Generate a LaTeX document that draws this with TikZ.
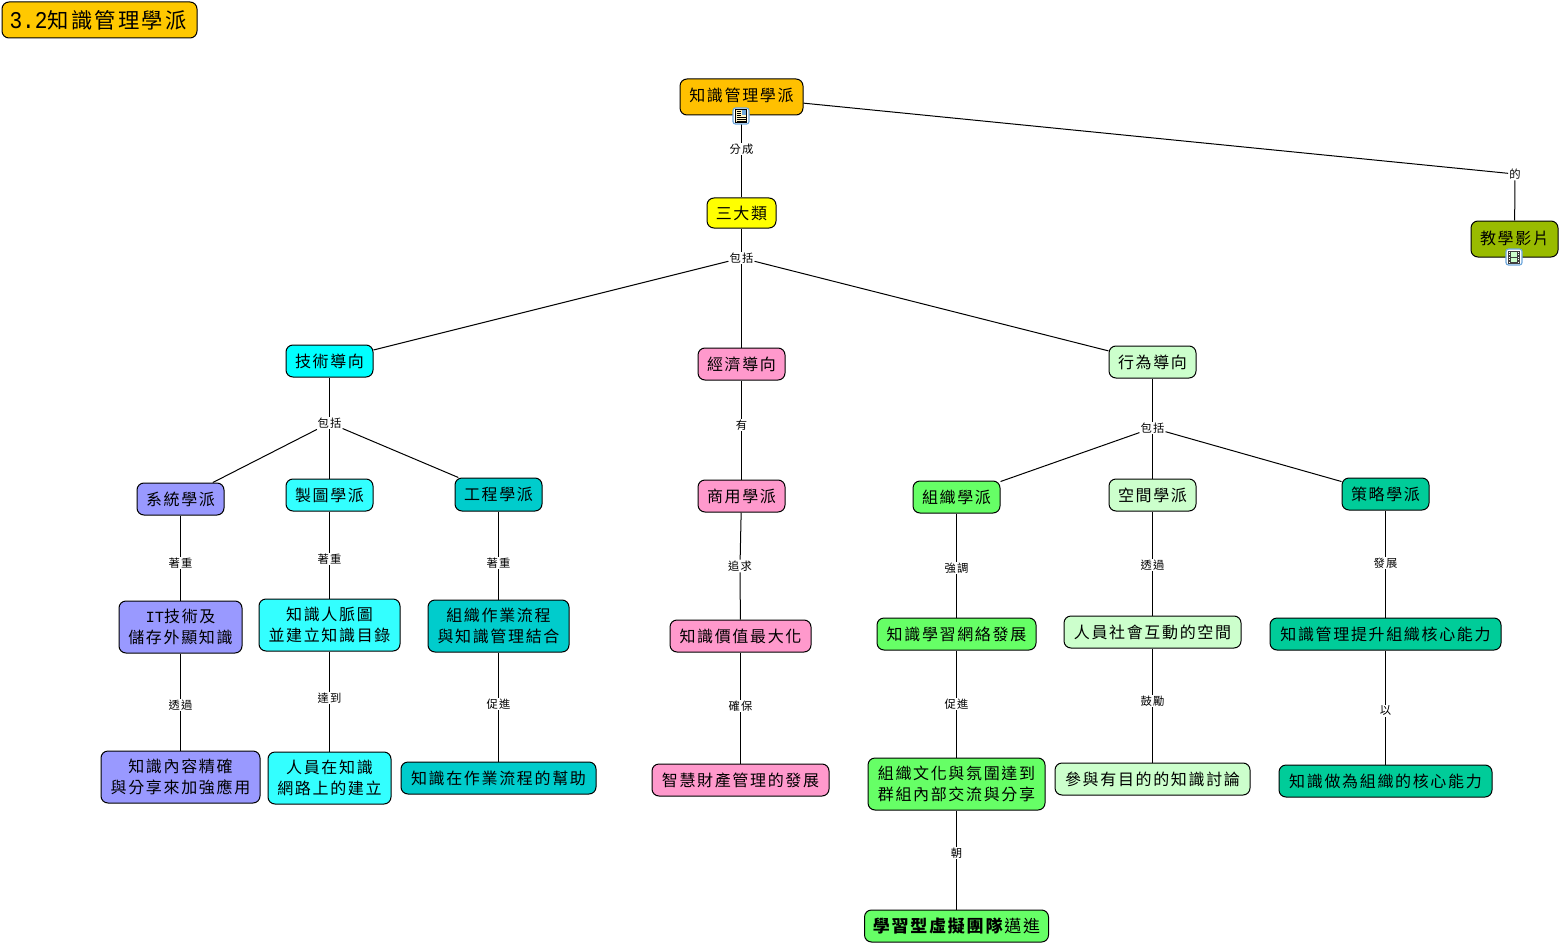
\documentclass[tikz,border=0pt]{standalone}
\usepackage{fontspec}
\setmainfont[LetterSpace=10.4]{Noto Sans CJK TC}
\newfontfamily\latinmono{Liberation Mono}
\definecolor{cRoot}{HTML}{FFC000}
\definecolor{cTitle}{HTML}{FFC800}
\definecolor{cYellow}{HTML}{FFFF00}
\definecolor{cOlive}{HTML}{99BB00}
\definecolor{cCyan}{HTML}{00FFFF}
\definecolor{cSky}{HTML}{33FFFF}
\definecolor{cTeal}{HTML}{00CCCC}
\definecolor{cPink}{HTML}{FF99CC}
\definecolor{cMint}{HTML}{CCFFCC}
\definecolor{cViolet}{HTML}{9999FF}
\definecolor{cGreen}{HTML}{66FF66}
\definecolor{cSea}{HTML}{00CC99}
\definecolor{cIcon}{HTML}{6FA8DC}
\definecolor{cPaper}{HTML}{FFF4C8}
\tikzset{
  box/.style={draw=black,line width=1pt,rounded corners=7pt,inner sep=0pt,align=center,
    text=black,font=\fontsize{16}{21}\selectfont},
  tag/.style={fill=white,inner sep=1pt,text=black,font=\fontsize{11.3}{12}\selectfont},
  link/.style={draw=black,line width=1pt},
  iconframe/.style={draw=cIcon,line width=1.2pt,rounded corners=2.5pt,fill=white},
  sz/.style n args={2}{minimum width=#1pt,minimum height=#2pt},
}
\begin{document}
\begin{tikzpicture}[x=1pt,y=-1pt]
\useasboundingbox (0,0) rectangle (1560,944);
% title
\node[box,fill=cTitle,sz={195}{36},font=\fontsize{21.3}{24}\selectfont] (title) at (99.5,20)
  {\hspace*{-3pt}{\latinmono\fontsize{24}{24}\selectfont\scalebox{.88}[1]{3.2}}知識管理學派};
% level 0-1
\node[box,fill=cRoot,sz={123}{36}] (root) at (741.5,97) {\raisebox{4pt}{知識管理學派}};
\node[box,fill=cYellow,sz={69}{30}] (three) at (741.5,213) {三大類};
\node[box,fill=cOlive,sz={87}{36}] (video) at (1514.5,239) {\raisebox{2pt}{教學影片}};
% level 2
\node[box,fill=cCyan,sz={87}{32}] (tech) at (329.5,361) {技術導向};
\node[box,fill=cPink,sz={87}{32}] (econ) at (741.5,364) {經濟導向};
\node[box,fill=cMint,sz={87}{32}] (behav) at (1152.5,362) {行為導向};
% level 3
\node[box,fill=cViolet,sz={87}{32}] (sys) at (180.5,499) {系統學派};
\node[box,fill=cSky,sz={87}{32}] (carto) at (329.5,495) {製圖學派};
\node[box,fill=cTeal,sz={87}{33}] (eng) at (498.5,494.5) {工程學派};
\node[box,fill=cPink,sz={87}{32}] (comm) at (741.5,496) {商用學派};
\node[box,fill=cGreen,sz={87}{32}] (org) at (956.5,497) {組織學派};
\node[box,fill=cMint,sz={87}{32}] (space) at (1152.5,495) {空間學派};
\node[box,fill=cSea,sz={87}{32}] (strat) at (1385.5,494) {策略學派};
% level 4
\node[box,fill=cViolet,sz={123}{52}] (it) at (180.5,627) {{\latinmono\fontsize{15.5}{21}\selectfont IT}技術及\\儲存外顯知識};
\node[box,fill=cSky,sz={141}{52}] (people) at (329.5,625) {知識人脈圖\\並建立知識目錄};
\node[box,fill=cTeal,sz={141}{52}] (flow) at (498.5,626) {組織作業流程\\與知識管理結合};
\node[box,fill=cPink,sz={141}{32}] (value) at (740.5,636) {知識價值最大化};
\node[box,fill=cGreen,sz={159}{32}] (net) at (956.5,634) {知識學習網絡發展};
\node[box,fill=cMint,sz={177}{32}] (social) at (1152.5,632) {人員社會互動的空間};
\node[box,fill=cSea,sz={231}{32}] (core) at (1385.5,634) {知識管理提升組織核心能力};
% level 5
\node[box,fill=cViolet,sz={159}{52}] (exact) at (180.5,777) {知識內容精確\\與分享來加強應用};
\node[box,fill=cSky,sz={123}{52}] (build) at (329.5,778) {人員在知識\\網路上的建立};
\node[box,fill=cTeal,sz={195}{32}] (help) at (498.5,778) {知識在作業流程的幫助};
\node[box,fill=cPink,sz={177}{32}] (ip) at (740.5,780) {智慧財產管理的發展};
\node[box,fill=cGreen,sz={177}{52}] (culture) at (956.5,784) {組織文化與氛圍達到\\群組內部交流與分享};
\node[box,fill=cMint,sz={195}{32}] (discuss) at (1152.5,779) {參與有目的的知識討論};
\node[box,fill=cSea,sz={213}{32}] (asCore) at (1385.5,781) {知識做為組織的核心能力};
\node[box,fill=cGreen,sz={184}{32},font=\fontsize{17}{21}\selectfont] (virtual) at (956.5,926) {\textbf{學習型虛擬團隊}邁進};
% labels
\node[tag] (tSplit) at (741.5,149) {分成};
\node[tag] (tOf) at (1515,174) {的};
\node[tag] (tInc) at (741.5,258) {包括};
\node[tag] (tIncA) at (329.5,423) {包括};
\node[tag] (tHas) at (741.5,425) {有};
\node[tag] (tIncB) at (1152.5,428) {包括};
\node[tag] (tA1) at (180.5,563) {著重};
\node[tag] (tA2) at (329.5,559) {著重};
\node[tag] (tA3) at (498.5,563) {著重};
\node[tag] (tB1) at (740,566) {追求};
\node[tag] (tC1) at (956.5,568) {強調};
\node[tag] (tC2) at (1152.5,565) {透過};
\node[tag] (tC3) at (1385.5,563) {發展};
\node[tag] (tD1) at (180.5,705) {透過};
\node[tag] (tD2) at (329.5,698) {達到};
\node[tag] (tD3) at (498.5,704) {促進};
\node[tag] (tD4) at (740.5,706) {確保};
\node[tag] (tD5) at (956.5,704) {促進};
\node[tag] (tD6) at (1152.5,701) {鼓勵};
\node[tag] (tD7) at (1385.5,711) {以};
\node[tag] (tE) at (956.5,853) {朝};
% connectors
\draw[link] (root) -- (tSplit);   \draw[link] (tSplit) -- (three);
\draw[link] (root) -- (tOf);      \draw[link] (tOf) -- (video);
\draw[link] (three) -- (tInc);
\draw[link] (tInc) -- (tech);     \draw[link] (tInc) -- (econ);   \draw[link] (tInc) -- (behav);
\draw[link] (tech) -- (tIncA);
\draw[link] (tIncA) -- (sys);     \draw[link] (tIncA) -- (carto); \draw[link] (tIncA) -- (eng);
\draw[link] (econ) -- (tHas);     \draw[link] (tHas) -- (comm);
\draw[link] (behav) -- (tIncB);
\draw[link] (tIncB) -- (org);     \draw[link] (tIncB) -- (space); \draw[link] (tIncB) -- (strat);
\draw[link] (sys) -- (tA1);       \draw[link] (tA1) -- (it);
\draw[link] (carto) -- (tA2);     \draw[link] (tA2) -- (people);
\draw[link] (eng) -- (tA3);       \draw[link] (tA3) -- (flow);
\draw[link] (comm) -- (tB1);      \draw[link] (tB1) -- (value);
\draw[link] (org) -- (tC1);       \draw[link] (tC1) -- (net);
\draw[link] (space) -- (tC2);     \draw[link] (tC2) -- (social);
\draw[link] (strat) -- (tC3);     \draw[link] (tC3) -- (core);
\draw[link] (it) -- (tD1);        \draw[link] (tD1) -- (exact);
\draw[link] (people) -- (tD2);    \draw[link] (tD2) -- (build);
\draw[link] (flow) -- (tD3);      \draw[link] (tD3) -- (help);
\draw[link] (value) -- (tD4);     \draw[link] (tD4) -- (ip);
\draw[link] (net) -- (tD5);       \draw[link] (tD5) -- (culture);
\draw[link] (social) -- (tD6);    \draw[link] (tD6) -- (discuss);
\draw[link] (core) -- (tD7);      \draw[link] (tD7) -- (asCore);
\draw[link] (culture) -- (tE);    \draw[link] (tE) -- (virtual);
% document icon on root
\begin{scope}[shift={(741,116)}]
  \draw[iconframe] (-8,-8) rectangle (8,8);
  \fill[cPaper,draw=black,line width=.7pt] (-5.5,-6.5) rectangle (5.5,6.5);
  \fill[cIcon] (0.5,-5.5) rectangle (4.5,-1);
  \foreach \yy in {-4.5,-2.5,-0.5}{\draw[black,line width=.7pt] (-4.5,\yy) -- (-0.5,\yy);}
  \foreach \yy in {1.5,3.2,5}{\draw[black,line width=.7pt] (-4.5,\yy) -- (4.5,\yy);}
\end{scope}
% film icon on video
\begin{scope}[shift={(1514,257)}]
  \draw[iconframe] (-8,-8) rectangle (8,8);
  \fill[black!75] (-6,-6.5) rectangle (6,6.5);
  \fill[cMint] (-3,-5) rectangle (3,-0.5);
  \fill[cMint] (-3,0.5) rectangle (3,5);
  \foreach \yy in {-5.5,-3,-0.5,2,4.5}{
    \fill[white] (-5.2,\yy) rectangle (-4,\yy+1);
    \fill[white] (4,\yy) rectangle (5.2,\yy+1);}
\end{scope}
\end{tikzpicture}
\end{document}
